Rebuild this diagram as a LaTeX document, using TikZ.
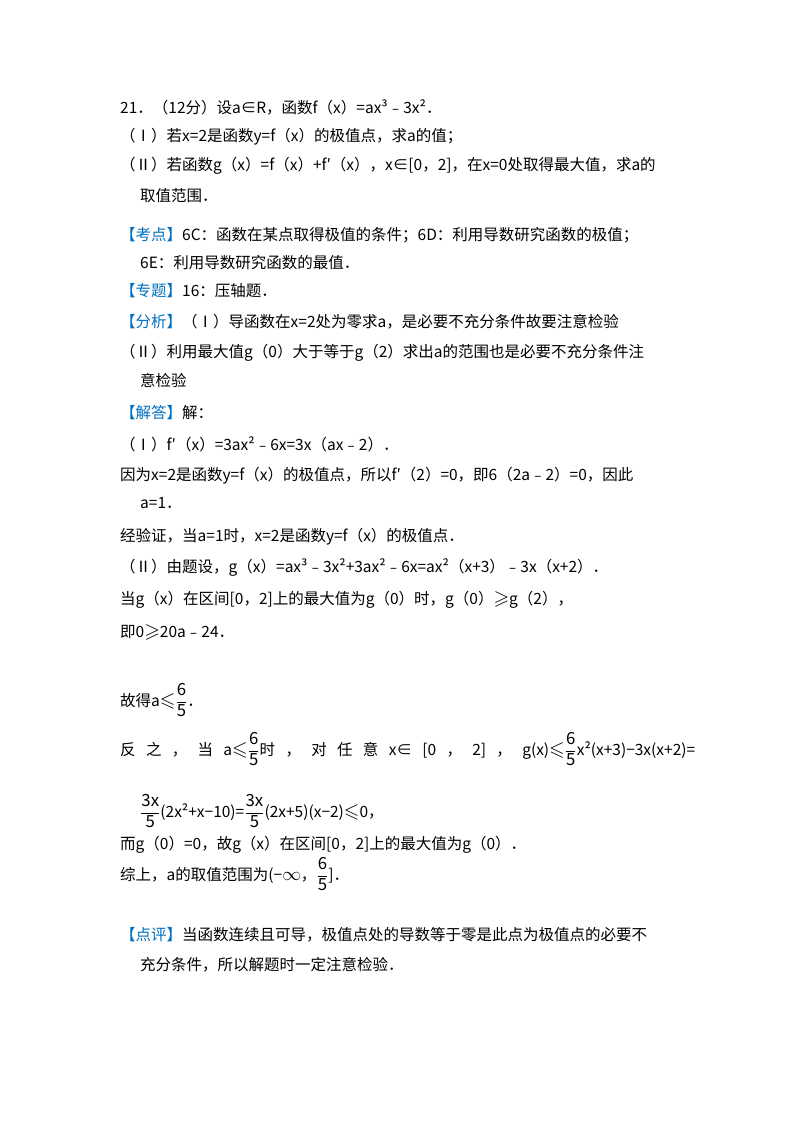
\documentclass[tikz,border=0pt]{standalone}
\usepackage{amsmath,amssymb,graphicx}
\usepackage{fontspec}
\setmainfont{Noto Sans CJK SC}
\definecolor{lab}{HTML}{0070C0}
\begin{document}
\begin{tikzpicture}[x=1pt,y=-1pt,t/.style={anchor=base west,inner sep=0pt,font=\fontsize{15.5}{18}\selectfont}]
\useasboundingbox (0,0) rectangle (800,1132);
\newcommand\lb[1]{\textcolor{lab}{【#1】}}
\newcommand\mm[1]{\scalebox{1.3}{$#1$}}
\newcommand\fr[2]{\scalebox{1.08}{$\dfrac{\mathrm{#1}}{\mathrm{#2}}$}}
\newcommand\myle{\mm{\leqslant}}
\node[t] (l1) at (120,113) {21．（12分）设a∈R，函数f（x）=ax³﹣3x²．};
\node[t] (l2) at (120,141) {（Ⅰ）若x=2是函数y=f（x）的极值点，求a的值；};
\node[t] (l3) at (120,170) {（Ⅱ）若函数g（x）=f（x）+f′（x），x∈[0，2]，在x=0处取得最大值，求a的};
\node[t] (l4) at (140,201) {取值范围．};
\node[t] (l5) at (120,240) {\lb{考点}6C：函数在某点取得极值的条件；6D：利用导数研究函数的极值；};
\node[t] (l6) at (140,268) {6E：利用导数研究函数的最值．};
\node[t] (l7) at (120,296) {\lb{专题}16：压轴题．};
\node[t] (l8) at (120,327) {\lb{分析}（Ⅰ）导函数在x=2处为零求a，是必要不充分条件故要注意检验};
\node[t] (l9) at (120,357) {（Ⅱ）利用最大值g（0）大于等于g（2）求出a的范围也是必要不充分条件注};
\node[t] (l10) at (140,386) {意检验};
\node[t] (l11) at (120,418) {\lb{解答}解：};
\node[t] (l12) at (120,450) {（Ⅰ）f′（x）=3ax²﹣6x=3x（ax﹣2）．};
\node[t] (l13) at (120,480) {因为x=2是函数y=f（x）的极值点，所以f′（2）=0，即6（2a﹣2）=0，因此};
\node[t] (l14) at (140,508) {a=1．};
\node[t] (l15) at (120,541) {经验证，当a=1时，x=2是函数y=f（x）的极值点．};
\node[t] (l16) at (120,572) {（Ⅱ）由题设，g（x）=ax³﹣3x²+3ax²﹣6x=ax²（x+3）﹣3x（x+2）．};
\node[t] (l17) at (120,604) {当g（x）在区间[0，2]上的最大值为g（0）时，g（0）\mm{\geqslant}g（2），};
\node[t] (l18) at (120,637) {即0\mm{\geqslant}20a﹣24．};
\node[t] (l19) at (120,706) {故得a\myle\fr65．};
\node[t] (l20) at (120,755) {\makebox[575pt][s]{反 之 ， 当 a\myle\fr65时 ， 对 任 意 x∈ [0 ， 2] ， g(x)\myle\fr65x²(x+3)−3x(x+2)=}};
\node[t] (l21) at (140,817) {\fr{3x}{5}(2x²+x−10)=\fr{3x}{5}(2x+5)(x−2)\myle0，};
\node[t] (l22) at (120,849) {而g（0）=0，故g（x）在区间[0，2]上的最大值为g（0）．};
\node[t] (l23) at (120,880) {综上，a的取值范围为(−\mm{\infty}，\fr65]．};
\node[t] (l24) at (120,940) {\lb{点评}当函数连续且可导，极值点处的导数等于零是此点为极值点的必要不};
\node[t] (l25) at (140,970) {充分条件，所以解题时一定注意检验．};
\end{tikzpicture}
\end{document}
